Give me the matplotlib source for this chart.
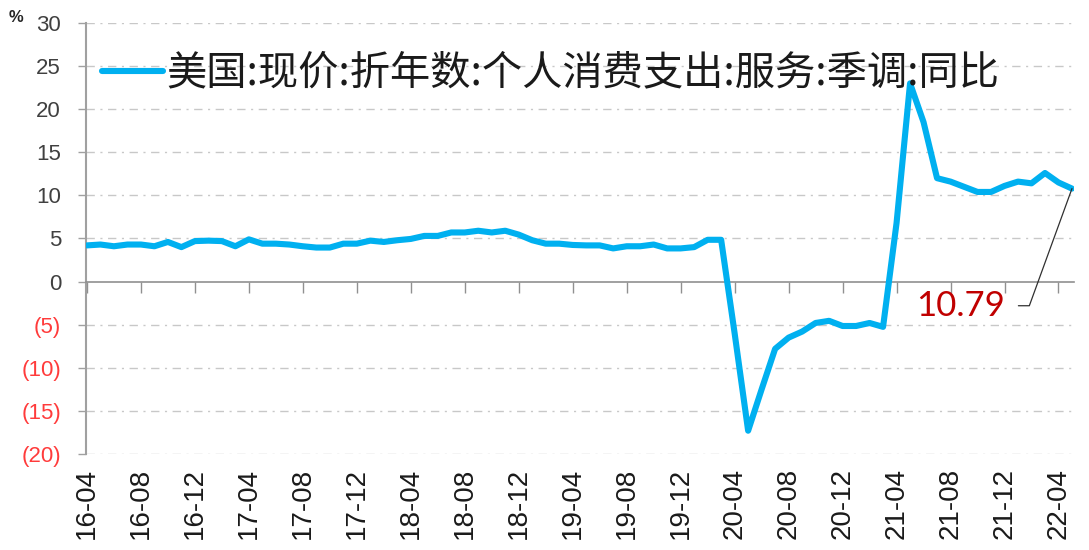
"""
plot.py
US PCE services (nominal, SAAR) year-over-year growth, monthly 2016-04 .. 2022-05.
"""

import matplotlib
matplotlib.use("Agg")  # Non-interactive backend
import matplotlib.pyplot as plt
from matplotlib.ticker import FixedLocator, FuncFormatter
import numpy as np

LINE_COLOR = "#00B0F0"
GRID_COLOR = "#C8C8C8"
NEG_COLOR = "#FF3B3B"
LABEL_RED = "#C00000"

SERIES_NAME = "美国:现价:折年数:个人消费支出:服务:季调:同比"

# monthly yoy %, first point = 2016-04
yoy = [
    4.2, 4.3, 4.1, 4.3, 4.3, 4.1, 4.6, 4.0, 4.7, 4.75, 4.7, 4.1,
    4.9, 4.4, 4.4, 4.3, 4.1, 3.95, 3.95, 4.4, 4.4, 4.75, 4.6, 4.8,
    4.95, 5.3, 5.3, 5.7, 5.7, 5.9, 5.7, 5.9, 5.45, 4.8, 4.4, 4.4,
    4.25, 4.2, 4.2, 3.85, 4.1, 4.1, 4.3, 3.85, 3.85, 4.0, 4.85, 4.85,
    -6.0, -17.3, -12.5, -7.8, -6.5, -5.8, -4.8, -4.55, -5.15, -5.15, -4.8, -5.25,
    6.8, 23.0, 18.5, 12.0, 11.6, 11.0, 10.4, 10.4, 11.1, 11.6, 11.4, 12.6,
    11.5, 10.79,
]

tick_labels = [
    "16-04", "16-08", "16-12", "17-04", "17-08", "17-12",
    "18-04", "18-08", "18-12", "19-04", "19-08", "19-12",
    "20-04", "20-08", "20-12", "21-04", "21-08", "21-12", "22-04",
]
tick_step = 4  # months between labelled ticks

y_ticks = [-20, -15, -10, -5, 0, 5, 10, 15, 20, 25, 30]
last_label = "10.79"


def _ylabel(v, pos=None):
    return f"({abs(int(v))})" if v < 0 else f"{int(v)}"


def main():
    plt.rcParams["font.family"] = ["Liberation Sans", "DejaVu Sans"]

    fig = plt.figure(figsize=(10.89, 5.5), dpi=100)
    ax = fig.add_axes([86 / 1089, 96 / 550, 988 / 1089, 431 / 550])

    x = np.arange(len(yoy))
    ax.plot(x, yoy, color=LINE_COLOR, lw=4.4, solid_joinstyle="round",
            solid_capstyle="round", label=SERIES_NAME, zorder=3)

    ax.set_xlim(-0.07, 73.15)
    ax.set_ylim(-20, 30)

    # ── y axis ────────────────────────────────────────────────────────────────
    ax.yaxis.set_major_locator(FixedLocator(y_ticks))
    ax.yaxis.set_major_formatter(FuncFormatter(_ylabel))
    ax.tick_params(axis="y", direction="out", length=6, width=1, color="#A0A0A0",
                   pad=12, labelsize=16, labelcolor="#404040")
    for lbl, v in zip(ax.get_yticklabels(), y_ticks):
        if v < 0:
            lbl.set_color(NEG_COLOR)
    for v in y_ticks:
        if v != 0:
            ax.axhline(v, color=GRID_COLOR, lw=1, ls=(0, (6, 4, 1.5, 4)), zorder=1)

    for side in ("top", "right"):
        ax.spines[side].set_visible(False)
    ax.spines["left"].set_color("#A0A0A0")
    ax.spines["left"].set_linewidth(1.5)

    # ── x axis: ticks on the zero line, labels at the bottom ─────────────────
    tick_pos = x[::tick_step][:len(tick_labels)]
    ax.spines["bottom"].set_position(("data", 0))
    ax.spines["bottom"].set_color("#909090")
    ax.spines["bottom"].set_linewidth(1.2)
    ax.set_xticks(tick_pos)
    ax.tick_params(axis="x", direction="out", length=8, width=1, color="#909090",
                   labelbottom=False)

    sec = ax.secondary_xaxis("bottom")
    sec.set_xticks(tick_pos, tick_labels)
    sec.spines["bottom"].set_visible(False)
    sec.tick_params(axis="x", length=0, pad=10, labelsize=20, labelrotation=90,
                    labelcolor="#1A1A1A")

    # ── labels / legend / annotation ─────────────────────────────────────────
    fig.text(16 / 1089, 1 - 18 / 550, "%", fontsize=12, fontweight="bold",
             color="#262626", ha="center", va="center")

    ax.legend(loc="upper left", bbox_to_anchor=(0.003, 0.962), frameon=False,
              handlelength=1.5, handletextpad=0.08, borderaxespad=0.0,
              borderpad=0.33,
              prop={"family": ["Noto Sans CJK SC", "DejaVu Sans"], "size": 29},
              labelcolor="#1A1A1A")

    ax.annotate(last_label, xy=(x[-1], yoy[-1]), xytext=(68.0, -2.8),
                ha="right", va="center", fontsize=25, color=LABEL_RED,
                family=["Lato", "DejaVu Sans"],
                arrowprops=dict(arrowstyle="-", color="#303030", lw=0.9,
                                relpos=(1.0, 0.5), shrinkA=8, shrinkB=0,
                                connectionstyle="angle,angleA=0,angleB=70,rad=0"))

    fig.savefig("out.png", dpi=100)
    plt.close(fig)


if __name__ == "__main__":
    main()
